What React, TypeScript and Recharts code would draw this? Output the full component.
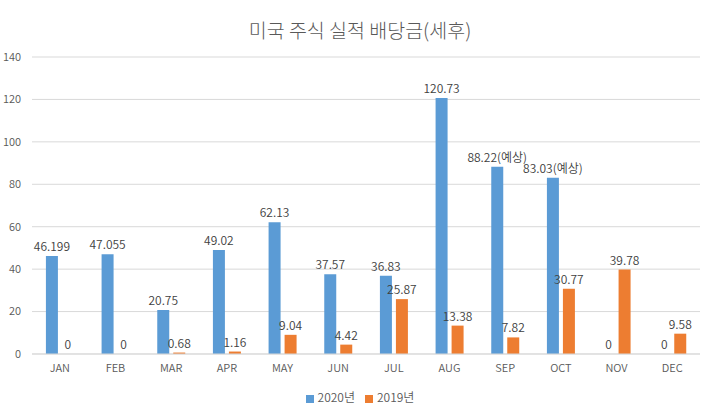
import { Bar, BarChart, CartesianGrid, LabelList, Legend, XAxis, YAxis } from "recharts";

const months = ["JAN", "FEB", "MAR", "APR", "MAY", "JUN", "JUL", "AUG", "SEP", "OCT", "NOV", "DEC"];
const dividends2020 = [46.199, 47.055, 20.75, 49.02, 62.13, 37.57, 36.83, 120.73, 88.22, 83.03, 0, 0];
const dividends2019 = [0, 0, 0.68, 1.16, 9.04, 4.42, 25.87, 13.38, 7.82, 30.77, 39.78, 9.58];
// months whose 2020 amount is still an estimate
const notes2020 = ["", "", "", "", "", "", "", "", "(예상)", "(예상)", "", ""];
const yTicks = [0, 20, 40, 60, 80, 100, 120, 140];
const seriesOrder = ["2020년", "2019년"];

const FONT = "'Noto Sans CJK KR', 'Noto Sans', sans-serif";

const data = months.map((m, i) => ({
  month: m,
  y2020: dividends2020[i],
  y2019: dividends2019[i],
  label2020: `${dividends2020[i]}${notes2020[i]}`,
}));

export default function App() {
  return (
    <div
      style={{
        position: "fixed",
        left: 0,
        top: 0,
        width: 714,
        height: 415,
        background: "#fff",
        fontFamily: FONT,
      }}
    >
      <div
        style={{
          position: "absolute",
          top: 15,
          left: 3,
          width: 714,
          textAlign: "center",
          fontSize: 19.5,
          fontWeight: 300,
          color: "#595959",
        }}
      >
        미국 주식 실적 배당금(세후)
      </div>
      <BarChart
        width={714}
        height={415}
        data={data}
        margin={{ top: 57, right: 14, left: 0, bottom: 31 }}
        barCategoryGap="25%"
        barGap={4}
      >
        <CartesianGrid vertical={false} stroke="#d9d9d9" />
        <XAxis
          dataKey="month"
          tickLine={false}
          axisLine={{ stroke: "#d9d9d9" }}
          tick={{ fill: "#595959", fontSize: 11, fontFamily: FONT, fontWeight: 350 }}
          tickMargin={4}
        />
        <YAxis
          width={32}
          domain={[0, 140]}
          ticks={yTicks}
          tickLine={false}
          axisLine={false}
          tick={{ fill: "#595959", fontSize: 11, fontFamily: FONT, fontWeight: 350 }}
          tickMargin={5}
        />
        <Legend
          layout="horizontal"
          verticalAlign="middle"
          align="center"
          iconType="square"
          iconSize={8}
          itemSorter={(item: any) => seriesOrder.indexOf(item.value)}
          wrapperStyle={{ top: 388, left: 8, width: 714, fontSize: 12, fontWeight: 350, color: "#595959" }}
          formatter={(value) => <span style={{ color: "#595959" }}>{value}</span>}
        />
        {/* tiny minPointSize keeps zero-value bars in the list so their "0" labels still draw */}
        <Bar dataKey="y2020" name="2020년" fill="#5B9BD5" minPointSize={0.001} isAnimationActive={false}>
          <LabelList
            dataKey="label2020"
            position="top"
            fill="#404040"
            fontSize={12}
            fontWeight={350}
            fontFamily={FONT}
          />
        </Bar>
        <Bar dataKey="y2019" name="2019년" fill="#ED7D31" minPointSize={0.001} isAnimationActive={false}>
          <LabelList
            dataKey="y2019"
            position="top"
            fill="#404040"
            fontSize={12}
            fontWeight={350}
            fontFamily={FONT}
          />
        </Bar>
      </BarChart>
    </div>
  );
}
